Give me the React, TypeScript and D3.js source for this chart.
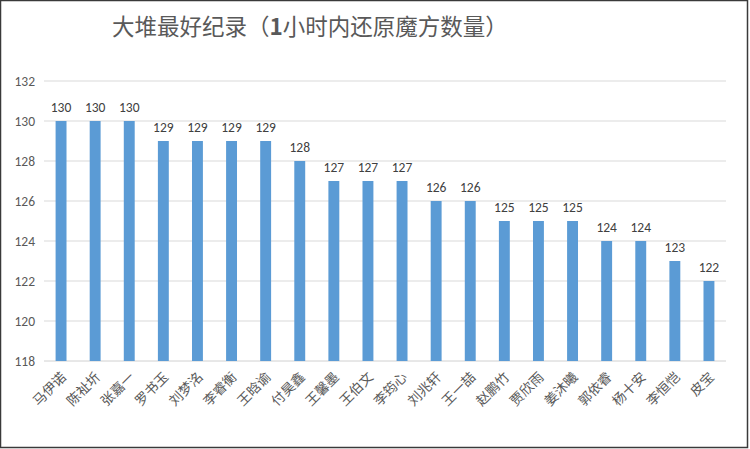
import React from "react";
import * as d3 from "d3";

const names = ["马伊诺","陈祉圻","张嘉一","罗书玉","刘梦洺","李睿衡","王晗谕","付昊鑫","王馨墨","王伯文","李筠心","刘兆轩","王一喆","赵鹏竹","贾欣雨","姜沐曦","郭依睿","杨十安","李恒恺","皮宝"];
const values = [130,130,130,129,129,129,129,128,127,127,127,126,126,125,125,125,124,124,123,122];
const yTicks = [118,120,122,124,126,128,130,132];
const titleA = "大堆最好纪录（";
const titleB = "1";
const titleC = "小时内还原魔方数量）";

const W = 750, H = 449;
const left = 44, right = 726, top = 81, bottom = 361;
const cjk = "'Noto Sans CJK SC', sans-serif";
const num = "Calibri, Carlito, 'Open Sans', 'DejaVu Sans', sans-serif";

export default function App() {
  const x = d3.scaleBand<string>().domain(names).range([left, right]).paddingInner(0.68).paddingOuter(0.34);
  const y = d3.scaleLinear().domain([118, 132]).range([bottom, top]);
  return (
    <svg width={W} height={H} style={{ position: "absolute", left: 0, top: 0, background: "#fff" }}>
      <rect x={0.5} y={0.5} width={747} height={447} fill="#fff" stroke="#3a3a3a" strokeWidth={1.5} />
      <text x={112} y={35} fontFamily={cjk} fontSize={22.5} fill="#595959">
        {titleA}
        <tspan fontWeight="bold">{titleB}</tspan>
        {titleC}
      </text>
      {yTicks.map((t) => (
        <g key={t}>
          <line x1={left} x2={right} y1={y(t)} y2={y(t)} stroke={t === 118 ? "#d0d0d0" : "#d9d9d9"} strokeWidth={1} />
          <text x={35} y={y(t)} dy="0.35em" textAnchor="end" fontFamily={num} fontSize={13.5} fill="#595959">{t}</text>
        </g>
      ))}
      {names.map((n, i) => {
        const bx = x(n)!;
        const cx = bx + x.bandwidth() / 2;
        return (
          <g key={n}>
            <rect x={bx} y={y(values[i])} width={x.bandwidth()} height={bottom - y(values[i])} fill="#5b9bd5" />
            <text x={cx} y={y(values[i]) - 9} textAnchor="middle" fontFamily={num} fontSize={13.5} fill="#404040">{values[i]}</text>
            <text transform={`translate(${cx + 6},${bottom + 17}) rotate(-45)`} textAnchor="end" fontFamily={cjk} fontSize={13.5} fill="#595959">{n}</text>
          </g>
        );
      })}
    </svg>
  );
}
